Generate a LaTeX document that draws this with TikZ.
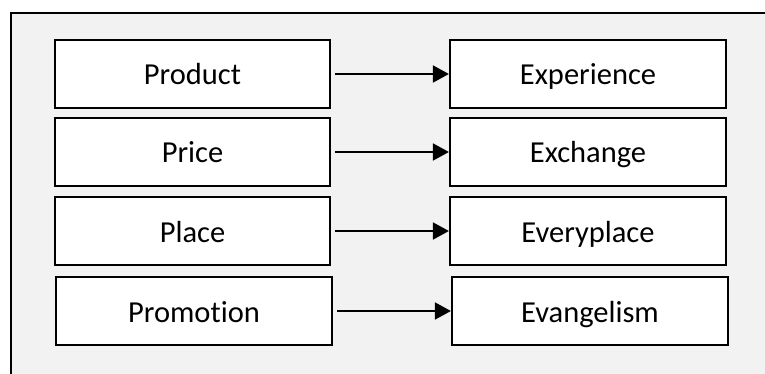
\documentclass[tikz,border=0pt]{standalone}
\usepackage{fontspec}
\setmainfont[Ligatures=NoCommon]{Carlito}
\usetikzlibrary{arrows.meta}
\definecolor{bggray}{HTML}{F2F2F2}
\tikzset{
  box/.style={draw=black, line width=2.2pt, fill=white, inner sep=0pt, text height=22pt, text depth=0pt, font=\fontsize{30.5}{36}\selectfont},
  link/.style={line width=1.8pt, -{Triangle[length=16pt,width=17pt]}, shorten <=4pt}
}
\newcommand{\mybox}[5]{\node[box, minimum width=#3-#2, minimum height=#5-#4] (#1) at ({(#2+#3)/2},{(#4+#5)/2})}
\begin{document}
\begin{tikzpicture}[x=1pt,y=-1pt]
\useasboundingbox (0,0) rectangle (765,374);
\clip (0,0) rectangle (765,374);
\fill[white] (0,0) rectangle (765,374);
\draw[line width=2.2pt, fill=bggray] (11,13) rectangle (790,400);
\mybox{l1}{55}{330}{40}{108} {Product};
\mybox{l2}{55}{330}{118}{186} {Price};
\mybox{l3}{55}{330}{197}{265} {Place};
\mybox{l4}{56}{332}{277}{345} {Promotion};
\mybox{r1}{450}{726}{40}{108} {Experience};
\mybox{r2}{450}{726}{118}{186} {Exchange};
\mybox{r3}{450}{726}{197}{265} {Everyplace};
\mybox{r4}{452}{728}{277}{345} {Evangelism};
\draw[link] (l1) -- (r1);
\draw[link] (l2) -- (r2);
\draw[link] (l3) -- (r3);
\draw[link] (l4) -- (r4);
\end{tikzpicture}
\end{document}
